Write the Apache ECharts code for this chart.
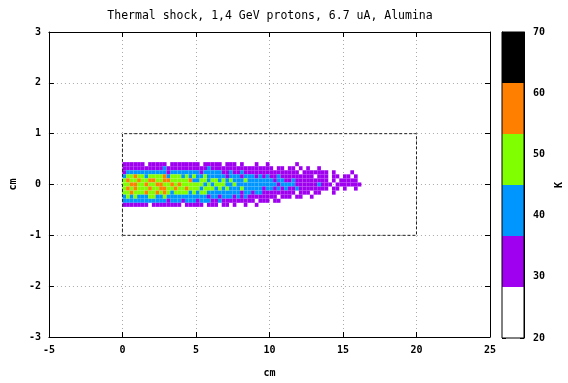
<!DOCTYPE html>
<html><head><meta charset="utf-8">
<script src="https://cdn.jsdelivr.net/npm/echarts@6/dist/echarts.min.js"></script>
<style>html,body{margin:0;padding:0;background:#fff}#c{width:568px;height:383px}</style>
</head><body><div id="c"></div>
<script>
const titleText = 'Thermal shock, 1,4 GeV protons, 6.7 uA, Alumina';
const xAxisName = 'cm';
const yAxisName = 'cm';
const colorbarName = 'K';
const xRange = [-5, 25, 5];
const yRange = [-3, 3, 1];
const colorbarRange = [20, 70, 10];
// colour bands of the temperature scale (K)
const bandEdges = [20, 28.33, 36.67, 45, 53.33, 61.67, 70];
const bandColors = ['#ffffff', '#a000f0', '#0096ff', '#80ff00', '#ff8000', '#000000'];
// target outline (cm)
const targetX = [0, 20, 20, 0, 0];
const targetY = [-1, -1, 1, 1, -1];
// temperature cells: 0.25 cm wide columns starting at x = 0, rows 0.08 cm high
const cellWidth = 0.25;
const cellHeight = 0.08;
const rowY = [0.4, 0.32, 0.24, 0.16, 0.08, 0, -0.08, -0.16, -0.24, -0.32, -0.4];
// estimated temperature (K) for each colour class
const levelTemp = {'1': 33, '2': 41, '3': 49, '4': 57};
// one character per cell (groups of 5 columns = 1.25 cm); '.' = below 28 K
const tempRows = [
  '11111 1.111 11.11 11111 1.111 11.11 1.1.. .1..1 ..... ..1.. ..... ..... .....',
  '11111 11111 12111 11111 11121 11111 11111 11111 1.11. 11.1. 1..1. ..... .....',
  '12222 22222 22122 22222 21222 22112 11211 11111 11111 111.1 11111 1.1.. ..1..',
  '23343 32333 34233 32323 22322 22212 22122 21212 11211 11111 11.11 1.11. 11.1.',
  '34334 33443 34433 33342 23323 32323 22232 22222 21221 12111 11111 1.1.1 1111.',
  '33443 34334 43343 43333 33232 33322 32222 22222 22122 22111 11121 11.11 11111',
  '34343 33433 44334 33433 32333 23232 22322 22212 21212 11211 11111 1.11. 1..1.',
  '33433 34334 34323 33323 23322 22222 22122 12211 11111 11.11 1.11. ..1.. .....',
  '23232 22332 23222 22222 22212 21222 12121 11111 11.11 1.11. .1... ..... .....',
  '22222 22222 22122 21222 12221 12111 11111 1.111 .11.. ..... ..... ..... .....',
  '11111 11.11 11111 1.111 11.11 1.11. 1..1. .1... ..... ..... ..... ..... .....'
];

const cells = [];
tempRows.forEach(function (rowText, r) {
  const row = rowText.replace(/ /g, '');
  for (let c = 0; c < row.length; c++) {
    const ch = row[c];
    if (levelTemp[ch] !== undefined) {
      cells.push([cellWidth * c + cellWidth / 2, rowY[r], levelTemp[ch]]);
    }
  }
});
const bands = [];
for (let i = 0; i < bandColors.length; i++) bands.push([bandEdges[i], bandEdges[i + 1], i]);
const pieces = bands.map(function (b) { return {gte: b[0], lt: b[1], color: bandColors[b[2]]}; });

const labelFont = {fontFamily: 'DejaVu Sans Mono', fontWeight: 'bold', fontSize: 10, color: '#000'};
const lineBlack = {show: true, onZero: false, lineStyle: {color: '#000', width: 1}};
const gridLine = {show: true, lineStyle: {color: '#aaa', type: [1, 3], width: 1}};
const tickIn = {show: true, inside: true, length: 5, lineStyle: {color: '#000'}};

const chart = echarts.init(document.getElementById('c'), null, {renderer: 'canvas'});
chart.setOption({
  animation: false,
  backgroundColor: '#fff',
  title: {
    text: titleText, left: 265, top: 5, textAlign: 'center',
    textStyle: {fontFamily: 'DejaVu Sans Mono', fontWeight: 'normal', fontSize: 11.5, color: '#000'}
  },
  grid: [
    {left: 41, right: 78, top: 32, bottom: 45, show: false},
    {left: 502, width: 22, top: 32, bottom: 45, show: true, z: 10, borderColor: '#000', borderWidth: 1, backgroundColor: 'transparent'}
  ],
  xAxis: [
    {type: 'value', gridIndex: 0, min: xRange[0], max: xRange[1], interval: xRange[2], position: 'bottom',
      name: xAxisName, nameLocation: 'middle', nameGap: 31, nameTextStyle: labelFont,
      axisLine: lineBlack, axisTick: tickIn,
      axisLabel: Object.assign({margin: 8}, labelFont), splitLine: gridLine},
    {type: 'value', gridIndex: 0, min: xRange[0], max: xRange[1], interval: xRange[2], position: 'top',
      axisLine: lineBlack, axisTick: tickIn, axisLabel: {show: false}, splitLine: {show: false}},
    {type: 'value', gridIndex: 1, min: 0, max: 1, show: false}
  ],
  yAxis: [
    {type: 'value', gridIndex: 0, min: yRange[0], max: yRange[1], interval: yRange[2], position: 'left',
      name: yAxisName, nameLocation: 'middle', nameGap: 30, nameTextStyle: labelFont,
      axisLine: lineBlack, axisTick: tickIn,
      axisLabel: Object.assign({margin: 8}, labelFont), splitLine: gridLine},
    {type: 'value', gridIndex: 0, min: yRange[0], max: yRange[1], interval: yRange[2], position: 'right',
      axisLine: lineBlack, axisTick: tickIn, axisLabel: {show: false}, splitLine: {show: false}},
    {type: 'value', gridIndex: 1, min: colorbarRange[0], max: colorbarRange[1], interval: colorbarRange[2], position: 'right',
      name: colorbarName, nameLocation: 'middle', nameGap: 30, nameTextStyle: labelFont,
      axisLine: lineBlack, axisTick: {show: true, inside: true, length: 4, lineStyle: {color: '#000'}},
      axisLabel: Object.assign({margin: 9}, labelFont), splitLine: {show: false}},
    {type: 'value', gridIndex: 1, min: colorbarRange[0], max: colorbarRange[1], interval: colorbarRange[2], position: 'left',
      axisLine: lineBlack, axisTick: {show: true, inside: true, length: 4, lineStyle: {color: '#000'}},
      axisLabel: {show: false}, splitLine: {show: false}}
  ],
  visualMap: {type: 'piecewise', show: false, seriesIndex: 0, dimension: 2, pieces: pieces},
  series: [
    {
      type: 'custom', xAxisIndex: 0, yAxisIndex: 0, data: cells, z: 2,
      encode: {x: 0, y: 1},
      renderItem: function (params, api) {
        const x = api.value(0), y = api.value(1);
        const p0 = api.coord([x - cellWidth / 2, y + cellHeight / 2]);
        const p1 = api.coord([x + cellWidth / 2, y - cellHeight / 2]);
        return {type: 'rect', shape: {x: p0[0], y: p0[1], width: p1[0] - p0[0], height: p1[1] - p0[1]},
          style: {fill: api.visual('color')}};
      }
    },
    {
      type: 'line', xAxisIndex: 0, yAxisIndex: 0, z: 5, symbol: 'none',
      data: targetX.map(function (x, i) { return [x, targetY[i]]; }),
      lineStyle: {color: '#222', width: 1, type: [3, 2]}
    },
    {
      type: 'custom', xAxisIndex: 2, yAxisIndex: 2, data: bands, z: 2,
      renderItem: function (params, api) {
        const p0 = api.coord([0, api.value(1)]);
        const p1 = api.coord([1, api.value(0)]);
        return {type: 'rect', shape: {x: p0[0], y: p0[1], width: p1[0] - p0[0], height: p1[1] - p0[1]},
          style: {fill: bandColors[api.value(2)]}};
      }
    }
  ]
});
</script></body></html>
